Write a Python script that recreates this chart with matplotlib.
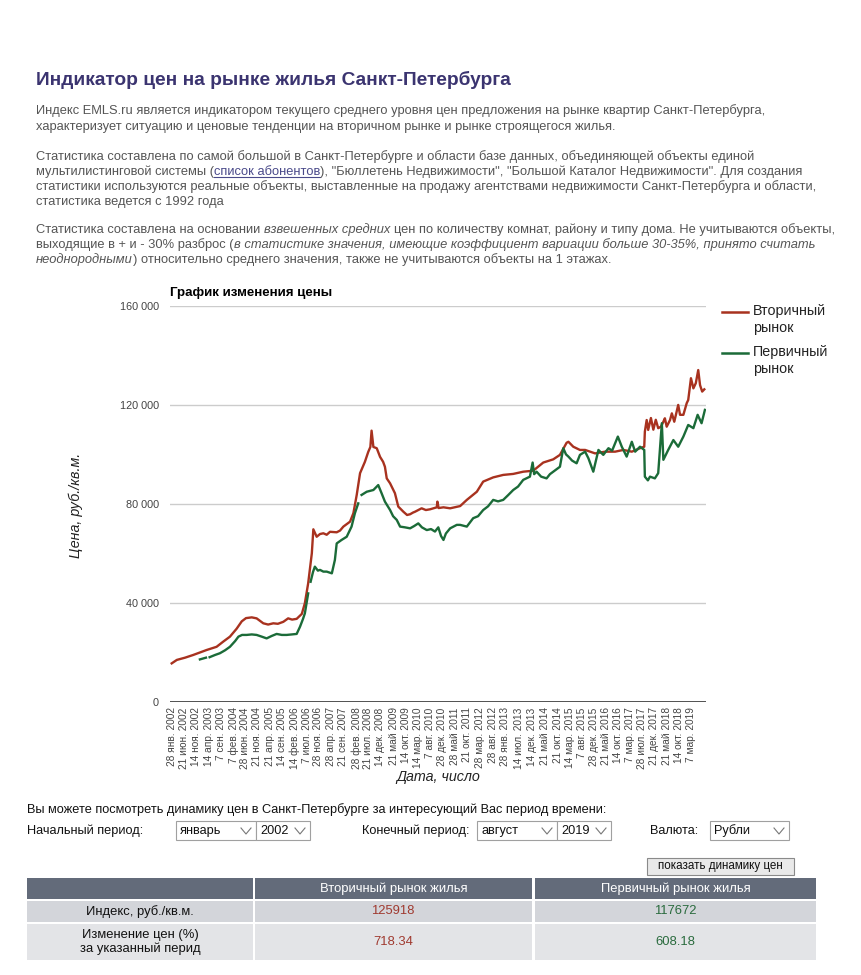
import numpy as np
import matplotlib.pyplot as plt
from matplotlib import font_manager
from matplotlib.patches import Rectangle

W, H = 861, 975

# Вторичный рынок: дата (доля года) и цена, тыс. руб./кв.м.
sec_date = [2002.07, 2002.24, 2002.51, 2002.78, 2003.00, 2003.22, 2003.55, 2003.77, 2003.99, 2004.21,
            2004.38, 2004.52, 2004.71, 2004.87, 2005.09, 2005.25, 2005.42, 2005.57, 2005.75, 2005.91,
            2006.04, 2006.19, 2006.36, 2006.46, 2006.57, 2006.69, 2006.74, 2006.85, 2006.96, 2007.07,
            2007.18, 2007.29, 2007.51, 2007.62, 2007.73, 2007.95, 2008.06, 2008.17, 2008.28, 2008.44,
            2008.55, 2008.62, 2008.66, 2008.72, 2008.83, 2008.94, 2009.04, 2009.10, 2009.16, 2009.27,
            2009.43, 2009.54, 2009.71, 2009.83, 2009.93, 2010.03, 2010.09, 2010.31, 2010.45, 2010.59,
            2010.81, 2010.83, 2010.87, 2011.03, 2011.25, 2011.58, 2011.80, 2012.13, 2012.34, 2012.67,
            2013.00, 2013.33, 2013.66, 2013.99, 2014.32, 2014.65, 2014.87, 2015.09, 2015.15, 2015.31,
            2015.53, 2015.70, 2016.03, 2016.36, 2016.69, 2016.96, 2017.24, 2017.51, 2017.65, 2017.67,
            2017.73, 2017.78, 2017.87, 2017.95, 2018.03, 2018.11, 2018.20, 2018.28, 2018.33, 2018.39,
            2018.50, 2018.56, 2018.64, 2018.77, 2018.83, 2018.94, 2019.05, 2019.10, 2019.19, 2019.27,
            2019.35, 2019.43, 2019.49, 2019.56, 2019.63]
sec_price = [15.5, 16.9, 17.8, 18.9, 19.9, 20.9, 22.2, 24.3, 26.3, 29.5,
             32.5, 33.8, 34.1, 33.7, 31.7, 31.2, 31.7, 31.5, 32.3, 33.7,
             33.2, 33.5, 35.5, 39.8, 47.9, 60.0, 69.7, 66.7, 67.8, 68.1,
             67.5, 68.7, 68.5, 69.2, 70.8, 72.8, 76.2, 83.6, 92.4, 97.0,
             101.0, 103.0, 109.6, 103.0, 102.5, 99.0, 97.0, 95.0, 90.3, 88.3,
             84.3, 78.9, 76.8, 75.5, 75.8, 76.5, 76.8, 78.2, 77.5, 77.8,
             78.6, 80.9, 78.3, 78.6, 78.2, 79.1, 81.6, 84.9, 89.0, 90.7,
             91.7, 92.1, 93.0, 93.4, 96.7, 98.0, 99.8, 104.7, 105.1, 103.1,
             101.8, 101.8, 100.4, 101.1, 101.1, 101.8, 101.1, 102.5, 103.1, 109.2,
             113.9, 109.9, 114.7, 110.0, 114.0, 110.6, 111.2, 113.2, 114.6, 111.2,
             113.9, 116.6, 113.2, 120.0, 116.0, 116.0, 120.7, 122.0, 130.8, 126.7,
             128.8, 134.1, 128.0, 125.4, 126.3]

# Первичный рынок (nan - разрыв линии)
nan = np.nan
prim_date = [2003.00, 2003.20, 2003.26, 2003.32, 2003.50, 2003.66, 2003.83, 2003.99, 2004.16, 2004.27,
             2004.39, 2004.54, 2004.71, 2004.87, 2005.04, 2005.20, 2005.37, 2005.53, 2005.70, 2005.86,
             2006.03, 2006.19, 2006.30, 2006.40, 2006.46, 2006.57, 2006.61, 2006.65, 2006.73, 2006.79,
             2006.89, 2006.96, 2007.07, 2007.18, 2007.35, 2007.45, 2007.51, 2007.67, 2007.84, 2008.00,
             2008.11, 2008.22, 2008.27, 2008.33, 2008.50, 2008.72, 2008.88, 2008.99, 2009.10, 2009.27,
             2009.37, 2009.49, 2009.60, 2009.76, 2009.93, 2010.06, 2010.20, 2010.32, 2010.48, 2010.62,
             2010.75, 2010.86, 2010.95, 2011.03, 2011.11, 2011.25, 2011.47, 2011.58, 2011.80, 2012.01,
             2012.17, 2012.34, 2012.50, 2012.67, 2012.83, 2013.00, 2013.16, 2013.33, 2013.49, 2013.66,
             2013.88, 2013.97, 2014.02, 2014.10, 2014.25, 2014.43, 2014.54, 2014.65, 2014.87, 2014.98,
             2015.07, 2015.15, 2015.27, 2015.42, 2015.53, 2015.70, 2015.81, 2015.97, 2016.14, 2016.30,
             2016.47, 2016.59, 2016.69, 2016.78, 2016.91, 2017.07, 2017.24, 2017.35, 2017.51, 2017.65,
             2017.67, 2017.77, 2017.84, 2018.00, 2018.11, 2018.23, 2018.28, 2018.44, 2018.61, 2018.77,
             2018.94, 2019.10, 2019.27, 2019.41, 2019.54, 2019.65]
prim_price = [17.1, 17.8, nan, 18.0, 18.9, 19.6, 20.8, 22.2, 24.5, 26.3,
              27.0, 27.0, 27.2, 27.0, 26.3, 25.6, 26.6, 27.4, 27.0, 27.0,
              27.2, 27.4, 30.3, 33.5, 35.7, 43.8, nan, 48.5, 52.5, 54.6,
              53.0, 53.3, 52.6, 52.6, 51.9, 57.3, 64.0, 65.4, 66.7, 70.8,
              76.2, 80.2, nan, 83.6, 84.9, 85.6, 87.6, 84.3, 80.9, 77.5,
              75.0, 73.5, 70.8, 70.5, 70.1, 71.0, 72.1, 70.5, 69.4, 69.8,
              68.8, 70.5, 67.0, 65.4, 68.0, 70.1, 71.5, 71.5, 70.8, 74.2,
              75.0, 77.5, 79.0, 81.6, 81.0, 81.6, 83.5, 85.6, 87.0, 89.7,
              91.0, 96.7, 92.0, 93.0, 91.0, 90.3, 92.0, 93.0, 95.0, 102.5,
              100.0, 99.1, 97.5, 96.4, 99.8, 101.1, 98.4, 93.0, 101.8, 99.8,
              102.5, 101.5, 104.5, 107.2, 103.1, 99.1, 105.1, 101.1, 103.1, 101.8,
              91.0, 89.5, 91.0, 90.3, 92.4, 112.6, 97.8, 101.8, 105.8, 103.1,
              107.2, 111.9, 110.6, 116.0, 112.6, 118.0]

tick_labels = ['28 янв. 2002', '21 июн. 2002', '14 ноя. 2002', '14 апр. 2003', '7 сен. 2003',
               '7 фев. 2004', '28 июн. 2004', '21 ноя. 2004', '21 апр. 2005', '14 сен. 2005',
               '14 фев. 2006', '7 июл. 2006', '28 ноя. 2006', '28 апр. 2007', '21 сен. 2007',
               '28 фев. 2008', '21 июл. 2008', '14 дек. 2008', '21 май 2009', '14 окт. 2009',
               '14 мар. 2010', '7 авг. 2010', '28 дек. 2010', '28 май 2011', '21 окт. 2011',
               '28 мар. 2012', '28 авг. 2012', '28 янв. 2013', '14 июл. 2013', '14 дек. 2013',
               '21 май 2014', '21 окт. 2014', '14 мар. 2015', '7 авг. 2015', '28 дек. 2015',
               '21 май 2016', '14 окт. 2016', '7 мар. 2017', '28 июл. 2017', '21 дек. 2017',
               '21 май 2018', '14 окт. 2018', '7 мар. 2019']
months = {'янв.': 1, 'фев.': 2, 'мар.': 3, 'апр.': 4, 'май': 5, 'июн.': 6,
          'июл.': 7, 'авг.': 8, 'сен.': 9, 'окт.': 10, 'ноя.': 11, 'дек.': 12}
y_ticks = [0, 40000, 80000, 120000, 160000]
y_tick_labels = ['0', '40 000', '80 000', '120 000', '160 000']

table_cols = ['Вторичный рынок жилья', 'Первичный рынок жилья']
table_rows = ['Индекс, руб./кв.м.', 'Изменение цен (%)\nза указанный перид']
table_sec = ['125918', '718.34']
table_prim = ['117672', '608.18']

RED = '#a8321f'
GREEN = '#1b6b38'

names = {f.name for f in font_manager.fontManager.ttflist}
NARROW = 'Liberation Sans Narrow' if 'Liberation Sans Narrow' in names else 'Liberation Sans'
plt.rcParams['font.family'] = ['Liberation Sans', 'DejaVu Sans']

fig = plt.figure(figsize=(W / 100, H / 100), dpi=100)
fig.patch.set_facecolor('white')

bg = fig.add_axes([0, 0, 1, 1])
bg.set_xlim(0, W)
bg.set_ylim(H, 0)
bg.axis('off')

# --- header text ---
bg.text(36, 80, 'Индикатор цен на рынке жилья Санкт-Петербурга', family=NARROW,
        fontsize=13.8, weight='bold', color='#3b3470', va='center')

BODY = dict(family=NARROW, fontsize=9.25, color='#555555')


def run(parts, x, y):
    prev = None
    out = []
    for s, italic, gap in parts:
        st = 'italic' if italic else 'normal'
        if prev is None:
            prev = bg.text(x, y, s, style=st, va='baseline', **BODY)
        else:
            prev = bg.annotate(s, xy=(1, 0), xycoords=prev, xytext=(gap * 2.5, 0),
                               textcoords='offset points', va='bottom', style=st, **BODY)
        out.append(prev)
    return out


run([('Индекс EMLS.ru является индикатором текущего среднего уровня цен предложения на рынке квартир Санкт-Петербурга,', False, 0)], 36, 114)
run([('характеризует ситуацию и ценовые тенденции на вторичном рынке и рынке строящегося жилья.', False, 0)], 36, 130)
run([('Статистика составлена по самой большой в Санкт-Петербурге и области базе данных, объединяющей объекты единой', False, 0)], 36, 160)
link_parts = run([('мультилистинговой системы (', False, 0), ('список абонентов', False, 0),
                  ('), "Бюллетень Недвижимости", "Большой Каталог Недвижимости". Для создания', False, 0)], 36, 175)
link_parts[1].set_color('#4a4a8a')
run([('статистики используются реальные объекты, выставленные на продажу агентствами недвижимости Санкт-Петербурга и области,', False, 0)], 36, 190)
run([('статистика ведется с 1992 года', False, 0)], 36, 205)
run([('Статистика составлена на основании', False, 0), ('взвешенных средних', True, 1),
     ('цен по количеству комнат, району и типу дома. Не учитываются объекты,', False, 1)], 36, 233)
run([('выходящие в + и - 30% разброс (', False, 0),
     ('в статистике значения, имеющие коэффициент вариации больше 30-35%, принято считать', True, 0)], 36, 248)
run([('неоднородными', True, 0), (') относительно среднего значения, также не учитываются объекты на 1 этажах.', False, 0)], 36, 263)

# --- chart ---
x_left, x_right = 2002.014, 2019.686
ax = fig.add_axes([170 / W, (H - 701.7) / H, (706 - 170) / W, (701.7 - 306) / H])
ax.set_zorder(2)
ax.patch.set_alpha(0)
ax.set_xlim(x_left, x_right)
ax.set_ylim(0, 160000)
for v in y_ticks[1:]:
    ax.axhline(v, color='#cccccc', lw=1, zorder=0)
ax.axhline(0, color='#333333', lw=1.2, zorder=3)
ax.plot(sec_date, np.array(sec_price) * 1000, color=RED, lw=1.7, zorder=2)
ax.plot(prim_date, np.array(prim_price) * 1000, color=GREEN, lw=1.7, zorder=2)
for s in ax.spines.values():
    s.set_visible(False)

tick_pos = []
for lab in tick_labels:
    d, m, yr = lab.split()
    tick_pos.append(int(yr) + (months[m] - 1) / 12 + (int(d) - 1) / 365)
ax.set_xticks(tick_pos)
ax.set_xticklabels(tick_labels, rotation=90, fontsize=7.3, color='#444444')
ax.set_yticks(y_ticks)
ax.set_yticklabels(y_tick_labels, fontsize=7.8, color='#444444')
ax.tick_params(length=0, pad=4)
ax.tick_params(axis='y', pad=8)

bg.text(170, 293, 'График изменения цены', fontsize=9.6, weight='bold', color='black', va='center')
bg.text(76, 505, 'Цена, руб./кв.м.', rotation=90, style='italic', fontsize=10.3,
        color='#222222', ha='center', va='center')
bg.text(438, 777, 'Дата, число', style='italic', fontsize=10.3, color='#222222',
        ha='center', va='center')

# legend
for yy, txt, col in [(312, 'Вторичный\nрынок', RED), (353, 'Первичный\nрынок', GREEN)]:
    bg.plot([722, 748], [yy, yy], color=col, lw=1.8)
    bg.text(753, yy - 8, txt, fontsize=10.3, color='#222222', va='top', linespacing=1.25)

# --- form ---
FORM = dict(family=NARROW, fontsize=9.2, color='#111111', va='center')
bg.text(27, 810, 'Вы можете посмотреть динамику цен в Санкт-Петербурге за интересующий Вас период времени:', **FORM)
bg.text(27, 831, 'Начальный период:', **FORM)
bg.text(362, 831, 'Конечный период:', **FORM)
bg.text(650, 831, 'Валюта:', **FORM)


def select(x0, x1, txt):
    bg.add_patch(Rectangle((x0, 821), x1 - x0, 19, facecolor='white', edgecolor='#a0a0a0', lw=0.8))
    bg.text(x0 + 4, 831, txt, **FORM)
    bg.plot([x1 - 15, x1 - 10, x1 - 5], [828, 834, 828], color='#777777', lw=0.8)


select(176, 256, 'январь')
select(256, 310, '2002')
select(477, 557, 'август')
select(557, 611, '2019')
select(710, 789, 'Рубли')

bg.add_patch(Rectangle((647, 858), 147, 17, facecolor='#e9e9e9', edgecolor='#8a8a8a', lw=0.8))
bg.text(720.5, 866.5, 'показать динамику цен', family=NARROW, fontsize=8.4, color='#111111',
        ha='center', va='center')

# --- table ---
cols = [(27, 253), (255, 532), (535, 816)]
rows = [(878, 899, '#636b7a'), (901, 922, '#d3d5da'), (924, 960, '#e3e4e7')]
for (y0, y1, c) in rows:
    for (x0, x1) in cols:
        bg.add_patch(Rectangle((x0, y0), x1 - x0, y1 - y0, facecolor=c, edgecolor='none'))
TAB = dict(family=NARROW, fontsize=9.4, ha='center', va='center')
for (x0, x1), txt in zip(cols[1:], table_cols):
    bg.text((x0 + x1) / 2, 889, txt, color='white', **TAB)
for i, (y0, y1, _) in enumerate(rows[1:]):
    yc = (y0 + y1) / 2
    bg.text(140, yc, table_rows[i], color='#111111', linespacing=1.15, **TAB)
    bg.text(393, yc, table_sec[i], color='#a03a30', **TAB)
    bg.text(675, yc, table_prim[i], color='#2a6b3e', **TAB)

# underline the link
fig.canvas.draw()
bb = link_parts[1].get_window_extent()
inv = bg.transData.inverted()
(lx0, ly), (lx1, _) = inv.transform([(bb.x0, bb.y0), (bb.x1, bb.y0)])
bg.plot([lx0, lx1], [ly - 1.0, ly - 1.0], color='#4a4a8a', lw=0.8)

fig.savefig('out.png', dpi=100, facecolor='white')
